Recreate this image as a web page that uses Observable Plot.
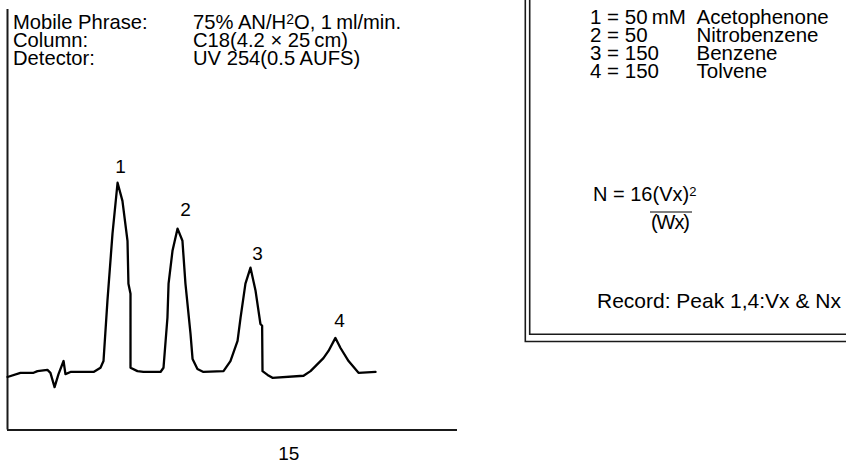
<!DOCTYPE html>
<html><head><meta charset="utf-8">
<script src="https://cdn.jsdelivr.net/npm/d3@7"></script>
<script src="https://cdn.jsdelivr.net/npm/@observablehq/plot@0.6"></script>
<style>
html,body{margin:0;padding:0;background:#fff;}
#chart{width:846px;height:462px;position:relative;overflow:hidden;}
</style></head><body><div id="chart"></div>
<script>
// Chromatogram trace (time in min, detector signal in arbitrary units)
const time = [0, 0.69, 1.39, 1.60, 2.13, 2.29, 2.51, 2.72, 2.99, 3.09, 3.36, 4.59, 4.96, 5.12, 5.33, 5.60, 5.87, 6.13, 6.40, 6.45, 6.56, 6.56, 6.93, 7.25, 8.16, 8.32, 8.53, 8.59, 8.80, 9.07, 9.33, 9.49, 9.76, 9.87, 10.13, 10.45, 11.52, 11.89, 12.27, 12.43, 12.69, 12.96, 13.23, 13.49, 13.58, 13.60, 13.87, 14.13, 15.79, 16.16, 16.85, 17.12, 17.49, 17.76, 18.19, 18.72, 19.63];
const signal = [12.6, 13.6, 13.6, 14.0, 14.3, 13.6, 10.2, 13.3, 16.4, 13.3, 13.8, 13.8, 14.8, 16.4, 30.7, 46.7, 58.8, 54.5, 45.0, 34.8, 32.4, 14.8, 14.0, 13.8, 13.8, 14.8, 26.7, 34.8, 42.6, 47.9, 45.0, 34.8, 22.9, 16.9, 14.5, 13.8, 14.0, 16.4, 21.2, 26.7, 34.8, 38.6, 33.1, 25.2, 24.8, 14.0, 13.1, 12.4, 12.9, 14.0, 17.1, 18.8, 21.9, 19.5, 16.4, 13.6, 13.8];

const peakIds = ["1", "2", "3", "4"];
const peakLabelTime = [6.03, 9.49, 13.33, 17.71];
const peakLabelSignal = [61.0, 50.8, 40.5, 24.6];
const xTicks = [15];

const infoLabels = ["Mobile Phrase:", "Column:", "Detector:"];
const infoValues = [
  [["75% AN/H", false], ["2", true], ["O, 1\u2009ml/min.", false]],
  [["C18(4.2 \u00d7 25\u2009cm)", false]],
  [["UV 254(0.5 AUFS)", false]]
];
const compoundIds = ["1 = 50\u2009mM", "2 = 50", "3 = 150", "4 = 150"];
const compoundNames = ["Acetophenone", "Nitrobenzene", "Benzene", "Tolvene"];
const formulaLeft = "N = 16";
const formulaNum = "(Vx)";
const formulaExp = "2";
const formulaDen = "(Wx)";
const recordNote = "Record: Peak 1,4:Vx & Nx";

const FONT = "'Liberation Sans', Arial, Helvetica, sans-serif";
const trace = time.map((t, i) => ({t, s: signal[i]}));
const labels = peakIds.map((id, i) => ({id, t: peakLabelTime[i], s: peakLabelSignal[i]}));

const chart = Plot.plot({
  width: 846, height: 462,
  marginLeft: 7, marginRight: 389, marginTop: 9, marginBottom: 32.5,
  style: {fontFamily: FONT, fontSize: "19px", color: "#000", background: "#fff"},
  x: {domain: [0, 24]},
  y: {domain: [0, 100], axis: null},
  marks: [
    Plot.axisX({ticks: xTicks, tickSize: 0, tickPadding: 16, fontSize: 19, label: null, tickFormat: d => String(d)}),
    Plot.ruleX([0], {stroke: "#1a1a1a", strokeWidth: 2}),
    Plot.ruleY([0], {stroke: "#1a1a1a", strokeWidth: 2}),
    Plot.line(trace, {x: "t", y: "s", stroke: "#000", strokeWidth: 2.3, strokeLinejoin: "round", strokeLinecap: "round"}),
    Plot.text(labels, {x: "t", y: "s", text: "id", lineAnchor: "bottom", textAnchor: "middle", fontSize: 19, fill: "#000"})
  ]
});
document.getElementById("chart").appendChild(chart);

// Annotations
const svg = d3.select(chart);
const g = svg.append("g").attr("font-family", FONT).attr("font-size", 20.5).attr("fill", "#000").attr("text-anchor", "start");
infoLabels.forEach((s, i) => g.append("text").attr("x", 13).attr("y", 28.5 + i * 18.3).attr("font-size", 20.2).text(s));
infoValues.forEach((segs, i) => {
  const t = g.append("text").attr("x", 193).attr("y", 28.5 + i * 18.3).attr("font-size", 20.2);
  let raised = false;
  segs.forEach(([s, sup]) => {
    const ts = t.append("tspan").text(s);
    if (sup && !raised) { ts.attr("dy", -5).attr("font-size", 14); raised = true; }
    else if (!sup && raised) { ts.attr("dy", 5); raised = false; }
  });
});
compoundIds.forEach((s, i) => g.append("text").attr("x", 590).attr("y", 23.5 + i * 18.1).text(s));
compoundNames.forEach((s, i) => g.append("text").attr("x", 696.5).attr("y", 23.5 + i * 18.1).text(s));

const f = g.append("text").attr("x", 593).attr("y", 201).attr("font-size", 20);
f.append("tspan").text(formulaLeft);
f.append("tspan").text(formulaNum);
f.append("tspan").attr("dy", -5).attr("font-size", 13).text(formulaExp);
g.append("text").attr("x", 651).attr("y", 229).attr("font-size", 20).attr("textLength", 39).text(formulaDen);
g.append("line").attr("x1", 650).attr("x2", 692).attr("y1", 212).attr("y2", 212).attr("stroke", "#000").attr("stroke-width", 1.2);
g.append("text").attr("x", 597).attr("y", 308).attr("font-size", 21).text(recordNote);

// Double-lined panel border
const b = svg.append("g").attr("fill", "none").attr("stroke", "#1a1a1a").attr("stroke-width", 1.6);
b.append("path").attr("d", "M525.3,0V341.5H846");
b.append("path").attr("d", "M529.7,0V334.3H846");
</script></body></html>
